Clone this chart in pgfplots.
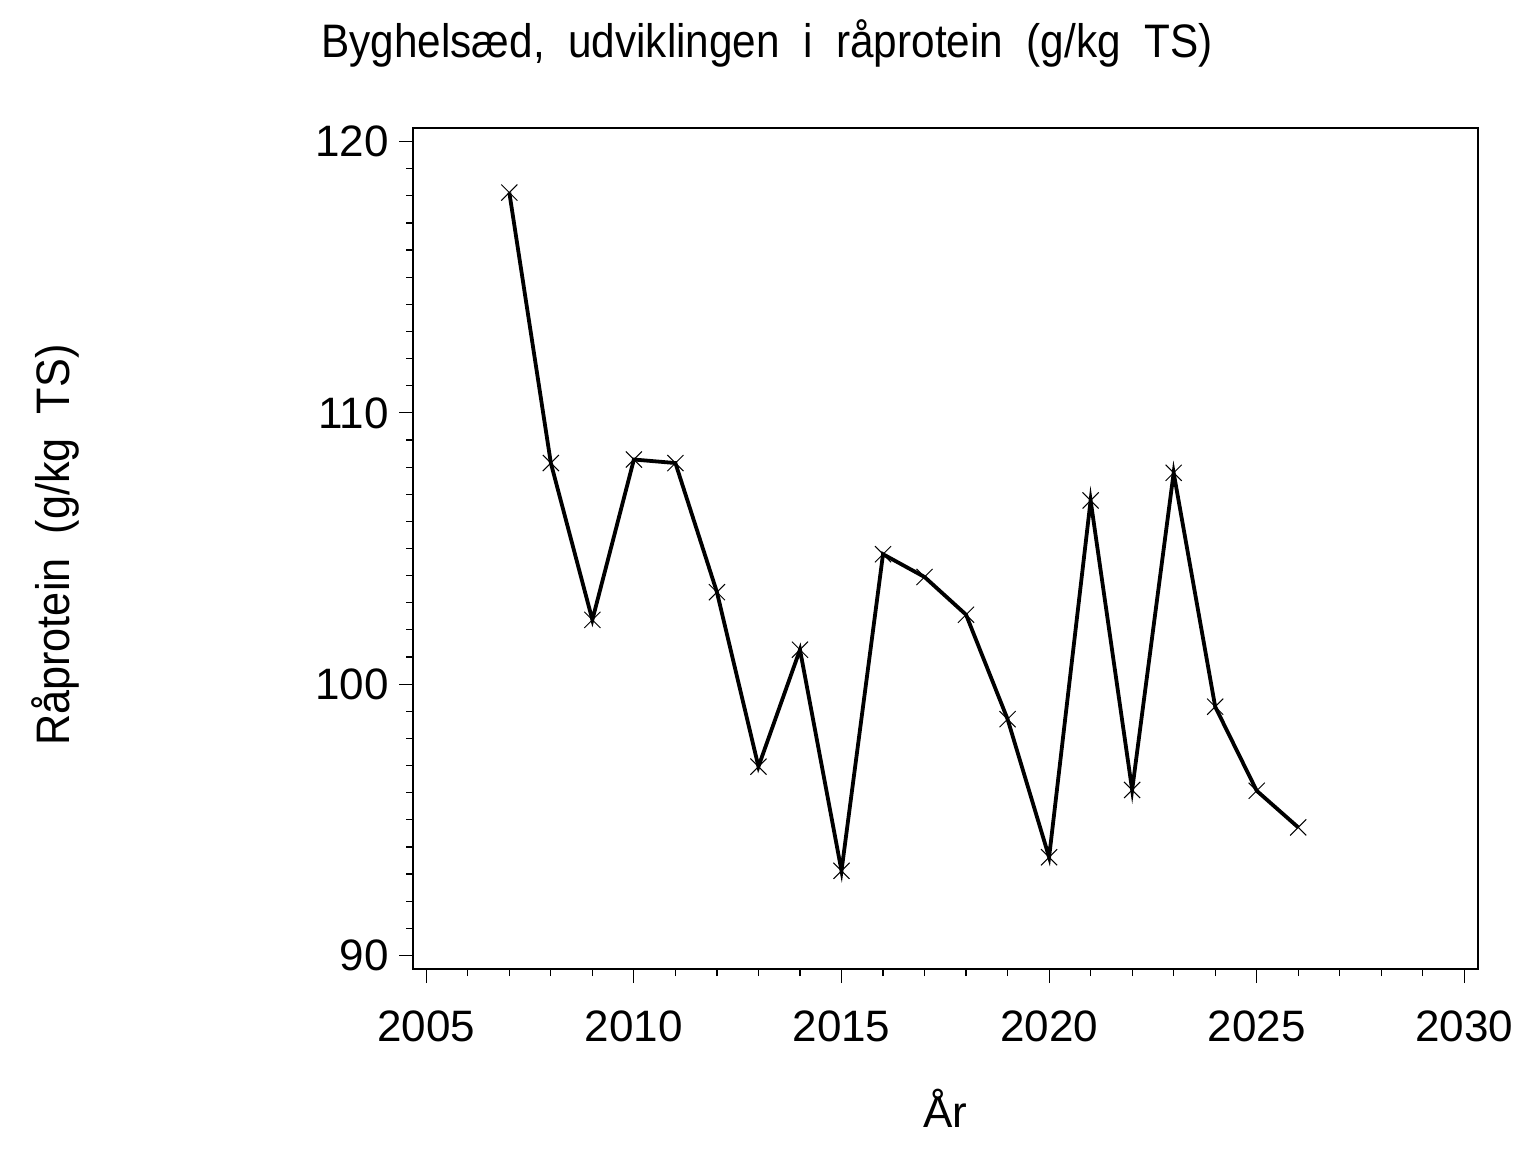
\documentclass[border=0pt]{standalone}
\usepackage{fontspec}
\setmainfont{Liberation Sans}
\newfontfamily\condfont[FakeStretch=0.92]{Liberation Sans}
\newfontfamily\titlefont[FakeStretch=0.9]{Liberation Sans}
\usepackage{pgfplots}
\pgfplotsset{compat=1.18}
\begin{document}
\begin{tikzpicture}[x=1pt,y=1pt]
\useasboundingbox (0,0) rectangle (768,576);
\node[anchor=base, inner sep=0pt, font=\titlefont\fontsize{23.5}{26}\selectfont] at (383.5,547) {Byghelsæd,\ \ udviklingen\ \ i\ \ råprotein\ \ (g/kg\ \ TS)};
\begin{axis}[
 at={(206.5pt,91.5pt)}, anchor=south west,
 scale only axis, width=532.5pt, height=420.5pt,
 xmin=2004.68, xmax=2030.33, ymin=89.5, ymax=120.5,
 xtick={2005,2010,2015,2020,2025,2030}, ytick={90,100,110,120},
 minor x tick num=4, minor y tick num=9,
 tick align=outside, xtick pos=bottom, ytick pos=left,
 major tick length=7pt, minor tick length=3.5pt,
 ticklabel style={font=\fontsize{22}{24}\selectfont},
 xticklabel style={yshift=-10.5pt},
 yticklabel style={inner sep=5pt},
 /pgf/number format/assume math mode=true,
 /pgf/number format/1000 sep={},
 axis line style={line width=0.6pt},
 every tick/.style={line width=0.6pt, black},
 xlabel={År}, ylabel={Råprotein\ \ (g/kg\ \ TS)},
 xlabel style={font=\fontsize{22}{24}\selectfont, at={(axis description cs:0.5,-0.188)}, anchor=base},
 ylabel style={font=\condfont\fontsize{23.5}{26}\selectfont, at={(axis description cs:-0.336,0.504)}, anchor=center},
 clip=false,
]
\addplot[black, line width=1.9pt, mark=x, mark size=5.7pt, mark options={line width=0.5pt, solid}] coordinates {
(2007,118.12) (2008,108.15) (2009,102.37) (2010,108.28) (2011,108.15)
(2012,103.39) (2013,96.96) (2014,101.27) (2015,93.12) (2016,104.79)
(2017,103.95) (2018,102.56) (2019,98.71) (2020,93.62) (2021,106.77)
(2022,96.10) (2023,107.79) (2024,99.17) (2025,96.07) (2026,94.72)
};
\end{axis}
\end{tikzpicture}
\end{document}
